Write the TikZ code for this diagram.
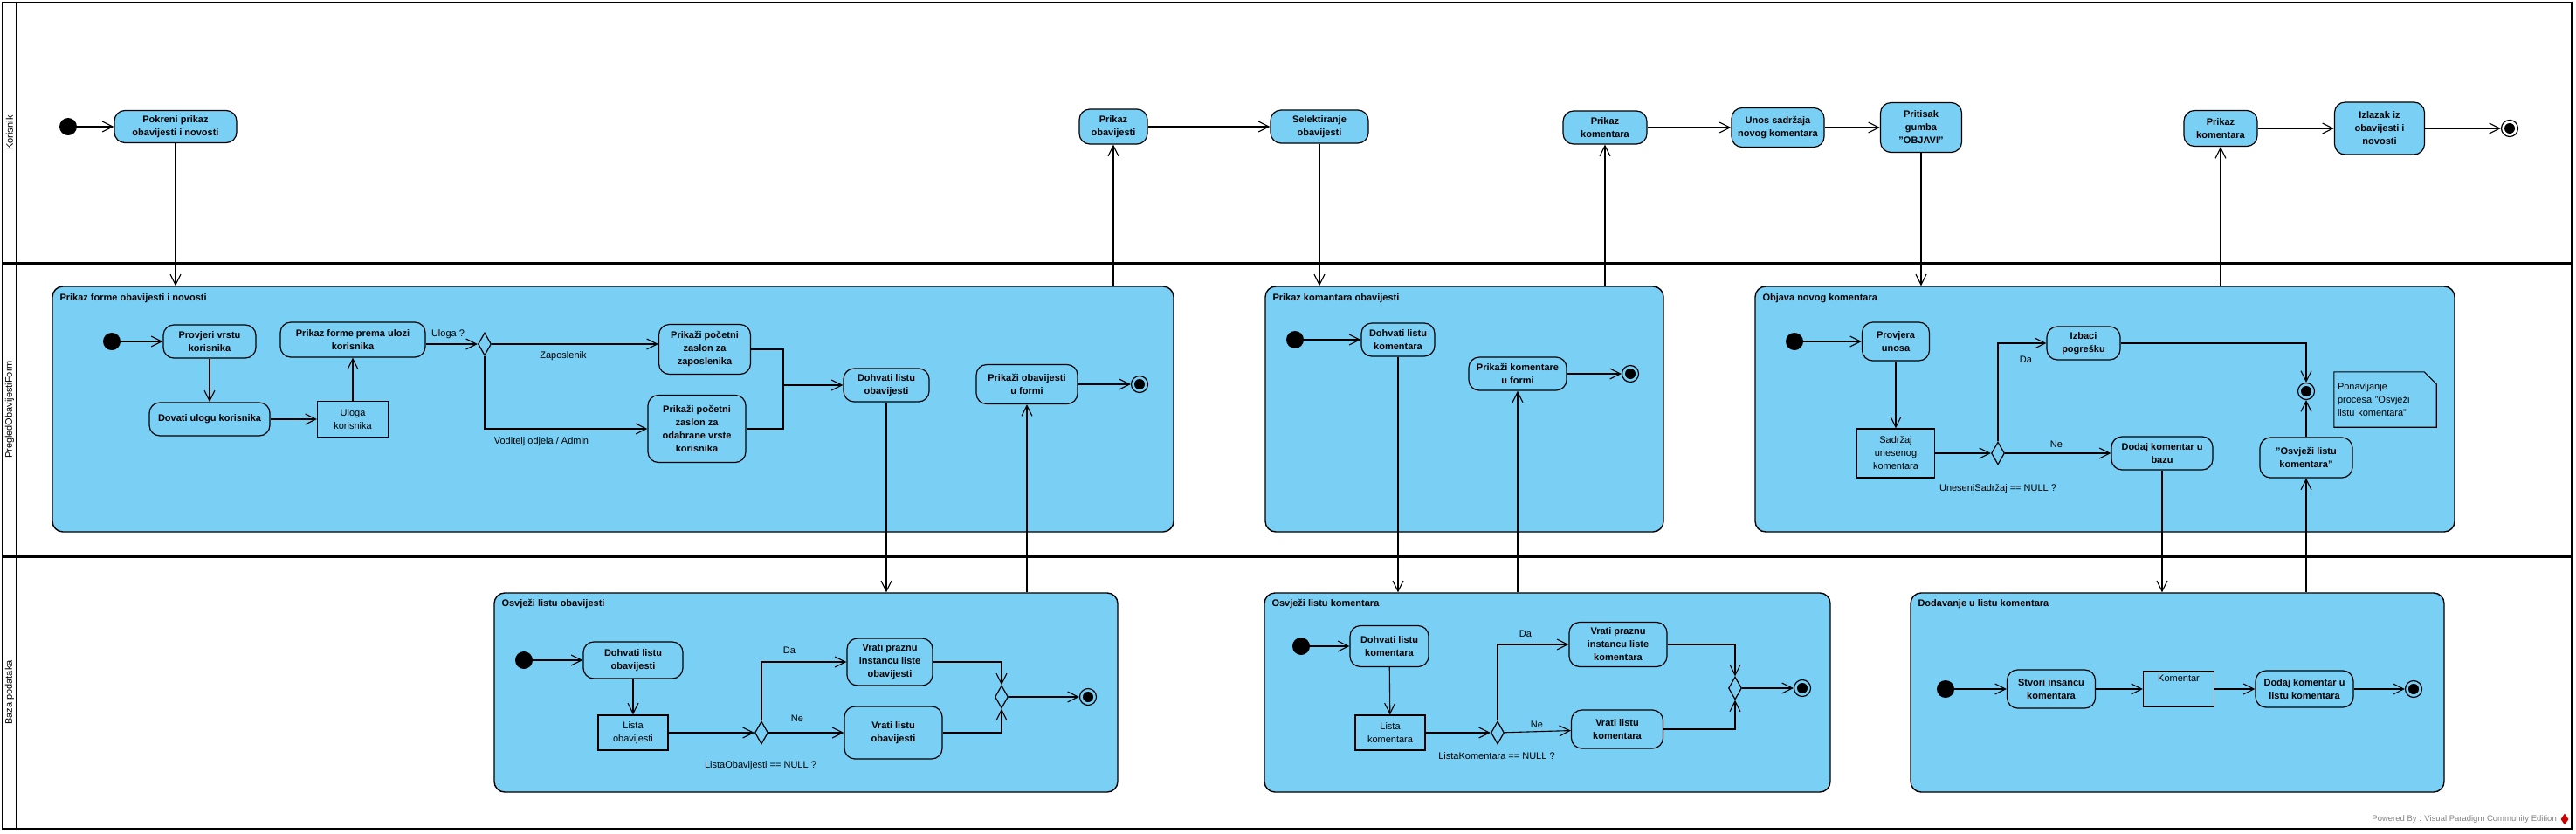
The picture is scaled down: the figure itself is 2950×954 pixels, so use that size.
\documentclass[tikz,border=0pt]{standalone}
\usepackage{fontspec}
\setmainfont{Liberation Sans}
\usetikzlibrary{arrows.meta,calc,shapes.geometric}
\definecolor{vpblue}{RGB}{122,207,245}
\newcommand{\fs}{\fontsize{11}{15}\selectfont}
\tikzset{>={Straight Barb[length=12pt,width=12pt]}}
\tikzstyle{act}=[draw, fill=vpblue, line width=1.2pt, rounded corners=12pt, align=center, font=\fs\bfseries, inner sep=2pt]
\tikzstyle{obj}=[draw, fill=vpblue, line width=1.2pt, align=center, font=\fs, inner sep=2pt]
\tikzstyle{comp}=[draw, fill=vpblue, line width=1.4pt, rounded corners=12pt, inner sep=0pt]
\tikzstyle{ttl}=[anchor=west, font=\fs\bfseries, inner sep=0pt]
\tikzstyle{lbl}=[font=\fs, inner sep=0pt]
\tikzstyle{lanename}=[rotate=90, font=\fs, inner sep=0pt]
\tikzstyle{ini}=[circle, fill=black, minimum size=20pt, inner sep=0pt]
\tikzstyle{fin}=[circle, draw, line width=1.2pt, minimum size=19pt, inner sep=0pt,
    path picture={\fill (path picture bounding box.center) circle (6pt);}]
\tikzstyle{dec}=[diamond, draw, fill=vpblue, line width=1.2pt, minimum width=15pt, minimum height=26pt, inner sep=0pt]
\tikzstyle{notebox}=[align=left, font=\fs, text width=109pt, minimum height=63pt, inner sep=4pt]
\tikzstyle{flow}=[->, line width=1.1pt]
\tikzstyle{seg}=[line width=1.1pt]
\newcommand{\fIn}[2]{\draw[flow] (#1) -- (#1 |- #2.north)}
\newcommand{\fOut}[2]{\draw[flow] (#2 |- #1.north) -- (#2)}

\begin{document}
\begin{tikzpicture}[x=1pt,y=-1pt]
\useasboundingbox (0,0) rectangle (2950,954);

\draw[line width=1.6pt] (3,3) rectangle (2945,949);
\draw[line width=2.4pt] (19,3) -- (19,949);
\draw[line width=3pt] (3,301) -- (2945,301);
\draw[line width=3pt] (3,637) -- (2945,637);
\node[lanename] (lKor) at (11,152) {Korisnik};
\node[lanename] (lForm) at (11,469) {PregledObavijestiForm};
\node[lanename] (lBaza) at (11,793) {Baza podataka};

\node[comp, minimum width=1284pt, minimum height=281pt] (formBox) at (702,468.5) {};
\node[comp, minimum width=456pt, minimum height=281pt] (komBox) at (1677,468.5) {};
\node[comp, minimum width=801pt, minimum height=281pt] (objBox) at (2410.5,468.5) {};
\node[comp, minimum width=714pt, minimum height=228pt] (osvObBox) at (923,793) {};
\node[comp, minimum width=648pt, minimum height=228pt] (osvKomBox) at (1772,793) {};
\node[comp, minimum width=611pt, minimum height=228pt] (dodBox) at (2493.5,793) {};
\node[ttl] (tForm) at ($(formBox.north west)+(9,14)$) {Prikaz forme obavijesti i novosti};
\node[ttl] (tKom) at ($(komBox.north west)+(9,14)$) {Prikaz komantara obavijesti};
\node[ttl] (tObj) at ($(objBox.north west)+(9,14)$) {Objava novog komentara};
\node[ttl] (tOsvOb) at ($(osvObBox.north west)+(9,13)$) {Osvježi listu obavijesti};
\node[ttl] (tOsvKom) at ($(osvKomBox.north west)+(9,13)$) {Osvježi listu komentara};
\node[ttl] (tDod) at ($(dodBox.north west)+(9,13)$) {Dodavanje u listu komentara};

\node[ini] (ini1) at (78,145) {};
\node[act, minimum width=140pt, minimum height=37pt] (pokreni) at (201,145) {Pokreni prikaz\\obavijesti i novosti};
\node[act, minimum width=78pt, minimum height=40pt] (prikazOb) at (1275,145) {Prikaz\\obavijesti};
\node[act, minimum width=112pt, minimum height=38pt] (selekt) at (1511,145) {Selektiranje\\obavijesti};
\node[act, minimum width=96pt, minimum height=38pt] (prikazKom) at (1838,146) {Prikaz\\komentara};
\node[act, minimum width=106pt, minimum height=45pt] (unos) at (2036,146) {Unos sadržaja\\novog komentara};
\node[act, minimum width=93pt, minimum height=57pt] (pritisak) at (2200,146) {Pritisak\\gumba\\"OBJAVI"};
\node[act, minimum width=84pt, minimum height=41pt] (prikazKom2) at (2543,147) {Prikaz\\komentara};
\node[act, minimum width=103pt, minimum height=60pt] (izlazak) at (2725,147) {Izlazak iz\\obavijesti i\\novosti};
\node[fin] (fin1) at (2874,147) {};

\node[ini] (ini2) at (128,391) {};
\node[act, minimum width=106pt, minimum height=38pt] (provjeri) at (240,391) {Provjeri vrstu\\korisnika};
\node[act, minimum width=138pt, minimum height=38pt] (dovati) at (240,480) {Dovati ulogu korisnika};
\node[obj, minimum width=81pt, minimum height=41pt] (uloga) at (404,480) {Uloga\\korisnika};
\node[act, minimum width=166pt, minimum height=40pt] (prikazForme) at (404,389) {Prikaz forme prema ulozi\\korisnika};
\node[dec] (dec1) at (555,394) {};
\node[act, minimum width=105pt, minimum height=57pt] (zaslonZap) at (807,400) {Prikaži početni\\zaslon za\\zaposlenika};
\node[act, minimum width=112pt, minimum height=77pt] (zaslonOdab) at (798,491) {Prikaži početni\\zaslon za\\odabrane vrste\\korisnika};
\coordinate (join1) at (897,441);
\node[act, minimum width=98pt, minimum height=38pt] (dohvOb) at (1015,441) {Dohvati listu\\obavijesti};
\node[act, minimum width=116pt, minimum height=45pt] (prikaziOb) at (1176,440) {Prikaži obavijesti\\u formi};
\node[fin] (fin2) at (1305,440) {};
\node[lbl] (lUloga) at (513,383) {Uloga ?};
\node[lbl] (lZap) at (645,408) {Zaposlenik};
\node[lbl] (lVod) at (620,506) {Voditelj odjela / Admin};

\node[ini] (ini3) at (1483,389) {};
\node[act, minimum width=84pt, minimum height=38pt] (dohvKom) at (1601,389) {Dohvati listu\\komentara};
\node[act, minimum width=112pt, minimum height=38pt] (prikKom) at (1738,428) {Prikaži komentare\\u formi};
\node[fin] (fin3) at (1867,428) {};

\node[ini] (ini4) at (2055,391) {};
\node[act, minimum width=77pt, minimum height=44pt] (provjera) at (2171,391) {Provjera\\unosa};
\node[obj, minimum width=89pt, minimum height=56pt] (sadrzaj) at (2171,519) {Sadržaj\\unesenog\\komentara};
\node[dec] (dec2) at (2288,519) {};
\node[act, minimum width=84pt, minimum height=38pt] (izbaci) at (2386,393) {Izbaci\\pogrešku};
\node[act, minimum width=116pt, minimum height=38pt] (dodaj) at (2476,519) {Dodaj komentar u\\bazu};
\node[fin] (fin4) at (2641,448) {};
\node[act, minimum width=106pt, minimum height=46pt] (osvjeziKom) at (2641,524) {"Osvježi listu\\komentara"};
\node[notebox] (note) at (2731.5,457.5) {Ponavljanje\\procesa "Osvježi\\listu komentara"};
\draw[seg] (note.north west) -- ($(note.north east)+(-14,0)$) -- ($(note.north east)+(0,14)$)
  -- (note.south east) -- (note.south west) -- cycle;
\node[lbl] (lDa1) at (2320,412) {Da};
\node[lbl] (lNe1) at (2355,509) {Ne};
\node[lbl] (lNull1) at (2288,560) {UneseniSadržaj == NULL ?};

\node[ini] (ini5) at (600,756) {};
\node[act, minimum width=114pt, minimum height=42pt] (dohvOb2) at (725,756) {Dohvati listu\\obavijesti};
\node[obj, minimum width=80pt, minimum height=40pt] (listaOb) at (725,839) {Lista\\obavijesti};
\node[dec] (dec3) at (872,839) {};
\node[act, minimum width=98pt, minimum height=54pt] (vratiPrazOb) at (1019,758) {Vrati praznu\\instancu liste\\obavijesti};
\node[act, minimum width=112pt, minimum height=60pt] (vratiOb) at (1023,839) {Vrati listu\\obavijesti};
\node[dec] (merge3) at (1147,798) {};
\node[fin] (fin5) at (1246,798) {};
\node[lbl] (lDa2) at (904,745) {Da};
\node[lbl] (lNe2) at (913,823) {Ne};
\node[lbl] (lNull2) at (871,877) {ListaObavijesti == NULL ?};

\node[ini] (ini6) at (1490,740) {};
\node[act, minimum width=90pt, minimum height=47pt] (dohvKom2) at (1591,740) {Dohvati listu\\komentara};
\node[obj, minimum width=80pt, minimum height=40pt] (listaKom) at (1592,839) {Lista\\komentara};
\node[dec] (dec4) at (1715,839) {};
\node[act, minimum width=112pt, minimum height=51pt] (vratiPrazKom) at (1853,738) {Vrati praznu\\instancu liste\\komentara};
\node[act, minimum width=105pt, minimum height=44pt] (vratiKom) at (1852,835) {Vrati listu\\komentara};
\node[dec] (merge4) at (1987,788) {};
\node[fin] (fin6) at (2064,788) {};
\node[lbl] (lDa3) at (1747,726) {Da};
\node[lbl] (lNe3) at (1760,830) {Ne};
\node[lbl] (lNull3) at (1714,866) {ListaKomentara == NULL ?};

\node[ini] (ini7) at (2228,789) {};
\node[act, minimum width=101pt, minimum height=44pt] (stvori) at (2349,789) {Stvori insancu\\komentara};
\node[obj, minimum width=81pt, minimum height=40pt, text depth=24pt] (komentar) at (2495,789) {Komentar};
\node[act, minimum width=112pt, minimum height=42pt] (dodajListu) at (2639,789) {Dodaj komentar u\\listu komentara};
\node[fin] (fin7) at (2764,789) {};

\node[font=\fontsize{9.5}{11}\selectfont, text=gray, anchor=east, inner sep=0pt] (pwr) at (2928,938) {Powered By : Visual Paradigm Community Edition};
\node[diamond, fill=red!80!black, minimum width=9pt, minimum height=13pt, inner sep=0pt] (vpLogo) at (2937,938) {};

\draw[flow] (ini1) -- (pokreni);
\fIn{pokreni}{formBox};
\fOut{formBox}{prikazOb};
\draw[flow] (prikazOb) -- (selekt);
\fIn{selekt}{komBox};
\fOut{komBox}{prikazKom};
\draw[flow] (prikazKom) -- (unos);
\draw[flow] (unos) -- (pritisak);
\fIn{pritisak}{objBox};
\fOut{objBox}{prikazKom2};
\draw[flow] (prikazKom2) -- (izlazak);
\draw[flow] (izlazak) -- (fin1);

\draw[flow] (ini2) -- (provjeri);
\draw[flow] (provjeri) -- (dovati);
\draw[flow] (dovati) -- (uloga);
\draw[flow] (uloga) -- (prikazForme);
\draw[flow] (prikazForme.east |- dec1.west) -- (dec1.west);
\draw[flow] (dec1.east) -- (dec1.east -| zaslonZap.west);
\draw[flow] (dec1.south) |- (zaslonOdab.west);
\draw[seg] (zaslonZap.east) -| (join1) |- (zaslonOdab.east);
\draw[flow] (join1) -- (dohvOb);
\fIn{dohvOb}{osvObBox};
\fOut{osvObBox}{prikaziOb};
\draw[flow] (prikaziOb) -- (fin2);

\draw[flow] (ini3) -- (dohvKom);
\fIn{dohvKom}{osvKomBox};
\fOut{osvKomBox}{prikKom};
\draw[flow] (prikKom) -- (fin3);

\draw[flow] (ini4) -- (provjera);
\draw[flow] (provjera) -- (sadrzaj);
\draw[flow] (sadrzaj) -- (dec2);
\draw[flow] (dec2.north) |- (izbaci);
\draw[flow] (dec2) -- (dodaj);
\draw[flow] (izbaci) -| (fin4);
\draw[flow] (osvjeziKom) -- (fin4);
\fIn{dodaj}{dodBox};
\fOut{dodBox}{osvjeziKom};

\draw[flow] (ini5) -- (dohvOb2);
\draw[flow] (dohvOb2) -- (listaOb);
\draw[flow] (listaOb) -- (dec3);
\draw[flow] (dec3.north) |- (vratiPrazOb);
\draw[flow] (dec3) -- (vratiOb);
\draw[flow] (vratiPrazOb) -| (merge3);
\draw[flow] (vratiOb) -| (merge3);
\draw[flow] (merge3) -- (fin5);

\draw[flow] (ini6) -- (dohvKom2);
\draw[flow] (dohvKom2) -- (listaKom);
\draw[flow] (listaKom) -- (dec4);
\draw[flow] (dec4.north) |- (vratiPrazKom);
\draw[flow] (dec4) -- (vratiKom);
\draw[flow] (vratiPrazKom) -| (merge4);
\draw[flow] (vratiKom) -| (merge4);
\draw[flow] (merge4) -- (fin6);

\draw[flow] (ini7) -- (stvori);
\draw[flow] (stvori) -- (komentar);
\draw[flow] (komentar) -- (dodajListu);
\draw[flow] (dodajListu) -- (fin7);

\end{tikzpicture}
\end{document}
